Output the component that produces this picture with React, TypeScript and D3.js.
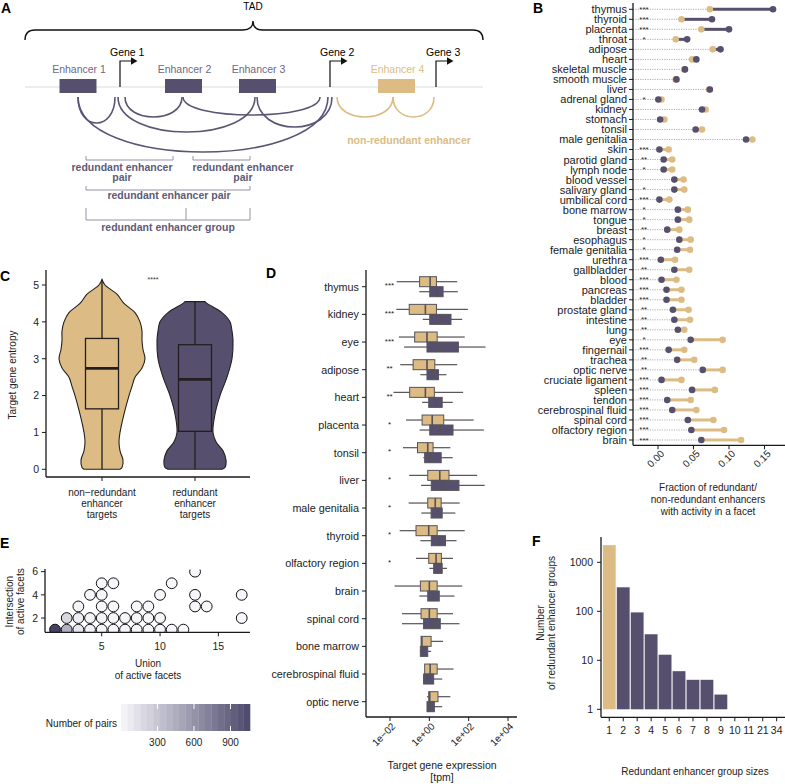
import React from 'react';
import * as d3 from 'd3';

const FONT = '"Liberation Sans", Arial, Helvetica, sans-serif';
const TAN = '#dcbc84';
const PURPLE = '#56506e';
const AXIS = '#1a1a1a';

// ---------- Panel A (schematic) ----------
const aEnhancers = ['Enhancer 1', 'Enhancer 2', 'Enhancer 3', 'Enhancer 4'];
const aEnhancerPos = [53, 158.5, 232.5, 371.5];
const aEnhancerRedundant = [true, true, true, false];
const aGenes = ['Gene 1', 'Gene 2', 'Gene 3'];
const aGenePos = [95, 305, 411];
const aArcFrom = [53, 53, 93, 100, 158, 232, 368, 368];
const aArcTo = [90, 303, 230, 157, 295, 307, 312, 409];
const aArcDepth = [26, 55, 35, 20, 18, 30, 20, 20];
const aArcRedundant = [true, true, true, true, true, true, false, false];

// ---------- Panel B ----------
const bCats = ['thymus', 'thyroid', 'placenta', 'throat', 'adipose', 'heart', 'skeletal muscle', 'smooth muscle', 'liver', 'adrenal gland', 'kidney', 'stomach', 'tonsil', 'male genitalia', 'skin', 'parotid gland', 'lymph node', 'blood vessel', 'salivary gland', 'umbilical cord', 'bone marrow', 'tongue', 'breast', 'esophagus', 'female genitalia', 'urethra', 'gallbladder', 'blood', 'pancreas', 'bladder', 'prostate gland', 'intestine', 'lung', 'eye', 'fingernail', 'trachea', 'optic nerve', 'cruciate ligament', 'spleen', 'tendon', 'cerebrospinal fluid', 'spinal cord', 'olfactory region', 'brain'];
const bRedundant = [0.162, 0.076, 0.100, 0.041, 0.088, 0.054, 0.038, 0.026, 0.073, 0.0005, 0.062, 0.003, 0.053, 0.124, 0.002, 0.008, 0.008, 0.023, 0.023, 0.002, 0.028, 0.028, 0.013, 0.030, 0.027, 0.004, 0.023, 0.005, 0.012, 0.012, 0.021, 0.023, 0.028, 0.046, 0.015, 0.027, 0.063, 0.005, 0.048, 0.013, 0.020, 0.042, 0.047, 0.061];
const bNonRedundant = [0.073, 0.033, 0.061, 0.025, 0.077, 0.048, 0.037, 0.025, 0.072, 0.005, 0.067, 0.009, 0.062, 0.133, 0.015, 0.020, 0.020, 0.036, 0.037, 0.016, 0.042, 0.044, 0.030, 0.046, 0.045, 0.024, 0.044, 0.026, 0.033, 0.033, 0.043, 0.045, 0.037, 0.091, 0.037, 0.051, 0.091, 0.033, 0.080, 0.046, 0.054, 0.078, 0.093, 0.117];
const bStars = ['***', '***', '***', '*', '', '', '', '', '', '*', '', '', '', '', '***', '**', '*', '', '*', '***', '*', '*', '**', '*', '*', '***', '**', '***', '***', '***', '**', '**', '**', '*', '***', '**', '**', '***', '***', '***', '***', '***', '***', '***'];
const bTicks = [0, 0.05, 0.1, 0.15];

// ---------- Panel C ----------
const cGroups = ['non\u2212redundant\nenhancer\ntargets', 'redundant\nenhancer\ntargets'];
const cNonRedLevels = [0, 0.05, 0.25, 0.5, 0.75, 1.0, 1.5, 2.0, 2.25, 2.5, 2.75, 3.0, 3.25, 3.5, 3.75, 4.0, 4.25, 4.5, 4.75, 5.0, 5.15];
const cNonRedWidth = [18, 20, 21, 18, 17, 18, 22, 27, 30, 33, 40, 43, 41, 40, 40, 38, 33, 22, 15, 3, 0];
const cRedLevels = [0, 0.05, 0.25, 0.5, 0.75, 1.0, 1.5, 2.0, 2.5, 3.0, 3.5, 3.75, 4.0, 4.25, 4.5, 4.55];
const cRedWidth = [27, 30, 31, 28, 21, 18, 20, 25, 32, 37, 38, 37, 35, 27, 12, 10];
const cBoxNonRed = [0, 1.64, 2.74, 3.55, 5.15];
const cBoxRed = [0, 1.03, 2.44, 3.38, 4.55];
const cTicks = [0, 1, 2, 3, 4, 5];

// ---------- Panel D ----------
const dCats = ['thymus', 'kidney', 'eye', 'adipose', 'heart', 'placenta', 'tonsil', 'liver', 'male genitalia', 'thyroid', 'olfactory region', 'brain', 'spinal cord', 'bone marrow', 'cerebrospinal fluid', 'optic nerve'];
const dStars = ['***', '***', '***', '**', '**', '*', '*', '*', '*', '*', '*', '', '', '', '', ''];
// [lower whisker, q1, median, q3, upper whisker] in tpm
const dNonRed = [
  [0.022, 0.32, 1.1, 2.3, 26],
  [0.021, 0.095, 0.63, 2.3, 91],
  [0.028, 0.18, 0.76, 2.5, 63],
  [0.033, 0.15, 0.76, 1.9, 26],
  [0.015, 0.10, 0.63, 1.8, 52],
  [0.065, 0.43, 1.4, 5.4, 180],
  [0.046, 0.25, 0.83, 1.55, 11.7],
  [0.095, 0.83, 3.4, 10, 270],
  [0.089, 0.83, 2.0, 4.0, 35],
  [0.031, 0.21, 0.93, 2.5, 63],
  [0.21, 0.93, 2.2, 4.1, 16],
  [0.017, 0.35, 1.0, 2.5, 47],
  [0.041, 0.38, 1.0, 2.5, 16],
  [0.38, 0.38, 0.42, 1.23, 5.0],
  [0.58, 0.58, 1.1, 2.5, 17],
  [0.76, 0.93, 1.05, 2.75, 11.7],
];
const dRed = [
  [0.31, 1.05, 2.5, 5.0, 28],
  [0.46, 1.05, 3.6, 12.6, 47],
  [0.052, 0.76, 3.6, 30, 720],
  [0.35, 0.76, 1.4, 2.9, 7.4],
  [0.43, 0.93, 2.0, 4.5, 15.5],
  [0.32, 1.05, 3.6, 16, 590],
  [0.5, 0.58, 1.1, 4.0, 15.5],
  [0.38, 1.26, 4.5, 32, 650],
  [0.39, 1.23, 2.5, 4.5, 21],
  [0.35, 1.26, 3.2, 6.6, 24],
  [1.0, 1.66, 2.7, 4.5, 7.9],
  [0.31, 0.83, 1.66, 3.2, 19],
  [0.041, 0.51, 1.4, 3.6, 34],
  [0.33, 0.35, 0.48, 0.83, 1.23],
  [0.51, 0.51, 0.76, 1.66, 4.5],
  [0.76, 0.76, 1.1, 1.8, 4.5],
];
const dTicks = [1e-2, 1, 1e2, 1e4];
const dTickLabels = ['1e\u221202', '1e+00', '1e+02', '1e+04'];

// ---------- Panel E ----------
const eUnion = [1, 2, 3, 4, 5, 6, 7, 8, 9, 10, 11, 12, 2, 3, 4, 5, 6, 7, 8, 9, 10, 17, 3, 5, 6, 8, 9, 13, 14, 4, 5, 10, 13, 17, 5, 6, 11, 13];
const eInter = [1, 1, 1, 1, 1, 1, 1, 1, 1, 1, 1, 1, 2, 2, 2, 2, 2, 2, 2, 2, 2, 2, 3, 3, 3, 3, 3, 3, 3, 4, 4, 4, 4, 4, 5, 5, 5, 6];
const eCount = [1100, 430, 110, 40, 25, 15, 8, 6, 4, 3, 2, 1, 190, 60, 30, 20, 12, 6, 5, 3, 2, 1, 25, 10, 6, 3, 2, 1, 1, 12, 5, 1, 1, 1, 3, 2, 1, 1];
const eXTicks = [5, 10, 15];
const eYTicks = [2, 4, 6];
const eLegendTicks = [300, 600, 900];

// ---------- Panel F ----------
const fSizes = ['1', '2', '3', '4', '5', '6', '7', '8', '9', '10', '11', '21', '34'];
const fCounts = [2240, 309, 95, 34, 13, 6, 4, 4, 2, 1, 1, 1, 1];
const fTicks = [1, 10, 100, 1000];

function PanelA() {
  const x = d3.scaleLinear().domain([0, 458]).range([25, 483]);
  const base = 87;
  const arcTop = 97;
  const labelCol = '#6c6985';
  const bracketCol = '#9592a6';
  const boldCol = '#5e5a78';
  return (
    <g>
      <text x={1} y={13} fontSize={14} fontWeight="bold">A</text>
      <text x={x(228)} y={10} fontSize={10} textAnchor="middle">TAD</text>
      <path d={`M${x(0)},40 Q${x(0)},30 ${x(10)},30 L${x(218)},30 Q${x(228)},30 ${x(228)},21 Q${x(228)},30 ${x(238)},30 L${x(448)},30 Q${x(458)},30 ${x(458)},40`} fill="none" stroke="#111" strokeWidth={1.4} />
      <line x1={x(0)} x2={x(458)} y1={base} y2={base} stroke="#dcdcdc" strokeWidth={1.2} />
      {aArcFrom.map((f, i) => {
        const x1 = x(f), x2 = x(aArcTo[i]);
        const c = arcTop + aArcDepth[i] / 0.75;
        return <path key={i} d={`M${x1},${arcTop} C${x1},${c} ${x2},${c} ${x2},${arcTop}`} fill="none" stroke={aArcRedundant[i] ? '#5a5575' : TAN} strokeWidth={1.6} />;
      })}
      {aEnhancers.map((e, i) => (
        <g key={e}>
          <rect x={x(aEnhancerPos[i]) - 18.5} y={79} width={37} height={14} fill={aEnhancerRedundant[i] ? PURPLE : TAN} />
          <text x={x(aEnhancerPos[i]) + 1} y={73} fontSize={10.5} textAnchor="middle" fill={aEnhancerRedundant[i] ? labelCol : TAN}>{e}</text>
        </g>
      ))}
      {aGenes.map((g, i) => {
        const gx = x(aGenePos[i]);
        return (
          <g key={g}>
            <path d={`M${gx},${base} L${gx},61 L${gx + 12},61`} fill="none" stroke="#111" strokeWidth={1.2} />
            <path d={`M${gx + 11},57.3 L${gx + 17.5},61 L${gx + 11},64.7 Z`} fill="#111" />
            <text x={gx - 10} y={56} fontSize={10.5}>{g}</text>
          </g>
        );
      })}
      <text x={409} y={144} fontSize={10.5} fontWeight="bold" fill={TAN} textAnchor="middle">non-redundant enhancer</text>
      <g stroke={bracketCol} strokeWidth={1} fill="none">
        <path d="M86,156 L86,160 L173,160 L173,156" />
        <path d="M193,156 L193,160 L250,160 L250,156" />
        <path d="M86,186 L86,190 L250,190 L250,186" />
        <path d="M86,208 L86,220 L250,220 L250,208 M186,208 L186,220" />
      </g>
      <g fontSize={10.5} fontWeight="bold" fill={boldCol} textAnchor="middle">
        <text x={122} y={171}>redundant enhancer</text>
        <text x={122} y={181}>pair</text>
        <text x={243} y={171}>redundant enhancer</text>
        <text x={243} y={181}>pair</text>
        <text x={169} y={199}>redundant enhancer pair</text>
        <text x={168} y={231}>redundant enhancer group</text>
      </g>
    </g>
  );
}

function PanelB() {
  const y = d3.scalePoint<string>().domain(bCats).range([9.3, 440]);
  const x = d3.scaleLinear().domain([0, 0.15]).range([658, 764.5]);
  const ax = 633, ay = 445.3;
  return (
    <g>
      <text x={533} y={13} fontSize={14} fontWeight="bold">B</text>
      {bCats.map((c, i) => {
        const cy = y(c) as number;
        const p = bRedundant[i], t = bNonRedundant[i];
        const lo = Math.min(p, t), hi = Math.max(p, t);
        return (
          <g key={c}>
            <line x1={ax} x2={x(lo)} y1={cy} y2={cy} stroke="#8a8a8a" strokeWidth={0.7} strokeDasharray="1.2,1.2" />
            <line x1={x(lo)} x2={x(hi)} y1={cy} y2={cy} stroke={p > t ? PURPLE : TAN} strokeWidth={3} />
            <circle cx={x(t)} cy={cy} r={3.3} fill={TAN} />
            <circle cx={x(p)} cy={cy} r={3.3} fill={PURPLE} />
            <text x={644} y={cy + 2.5} fontSize={8} textAnchor="middle" fill="#222">{bStars[i]}</text>
            <line x1={ax - 4} x2={ax} y1={cy} y2={cy} stroke={AXIS} strokeWidth={1} />
            <text x={ax - 6} y={cy} dy="0.36em" fontSize={11} textAnchor="end" fill="#1a1a1a">{c}</text>
          </g>
        );
      })}
      <line x1={ax} x2={ax} y1={3} y2={ay} stroke={AXIS} strokeWidth={1.3} />
      <line x1={ax} x2={785} y1={ay} y2={ay} stroke={AXIS} strokeWidth={1.3} />
      {bTicks.map((t) => (
        <g key={t}>
          <line x1={x(t)} x2={x(t)} y1={ay} y2={ay + 4} stroke={AXIS} strokeWidth={1} />
          <text transform={`translate(${x(t) + 7},${ay + 9}) rotate(-45)`} fontSize={10} textAnchor="end" fill="#222">{t.toFixed(2)}</text>
        </g>
      ))}
      <g fontSize={10} textAnchor="middle" fill="#222">
        <text x={708} y={491}>Fraction of redundant/</text>
        <text x={708} y={503}>non-redundant enhancers</text>
        <text x={708} y={515}>with activity in a facet</text>
      </g>
    </g>
  );
}

function PanelC() {
  const y = d3.scaleLinear().domain([0, 5]).range([469.3, 285]);
  const cxs = [102, 195];
  const ax = 46, ay = 477;
  const violin = (levels: number[], widths: number[], cx: number) => {
    const pts = levels.map((l, i) => [l, widths[i]] as [number, number]);
    return d3.area<[number, number]>()
      .y((d) => y(d[0]))
      .x0((d) => cx - d[1])
      .x1((d) => cx + d[1])
      .curve(d3.curveCatmullRom)(pts) as string;
  };
  const box = (s: number[], cx: number, fill: string) => (
    <g>
      <line x1={cx} x2={cx} y1={y(s[0])} y2={y(s[4])} stroke="#231f20" strokeWidth={1.3} />
      <rect x={cx - 16.5} y={y(s[3])} width={33} height={y(s[1]) - y(s[3])} fill={fill} stroke="#231f20" strokeWidth={1.3} />
      <line x1={cx - 16.5} x2={cx + 16.5} y1={y(s[2])} y2={y(s[2])} stroke="#231f20" strokeWidth={2.8} />
    </g>
  );
  return (
    <g>
      <text x={0} y={281} fontSize={14} fontWeight="bold">C</text>
      <path d={violin(cNonRedLevels, cNonRedWidth, cxs[0])} fill={TAN} stroke="#231f20" strokeWidth={1.1} />
      <path d={violin(cRedLevels, cRedWidth, cxs[1])} fill={PURPLE} stroke="#231f20" strokeWidth={1.1} />
      {box(cBoxNonRed, cxs[0], TAN)}
      {box(cBoxRed, cxs[1], PURPLE)}
      <text x={153} y={282} fontSize={7} textAnchor="middle" fill="#333">****</text>
      <line x1={ax} x2={ax} y1={270} y2={ay} stroke={AXIS} strokeWidth={1.3} />
      <line x1={ax} x2={250} y1={ay} y2={ay} stroke={AXIS} strokeWidth={1.3} />
      {cTicks.map((t) => (
        <g key={t}>
          <line x1={ax - 4} x2={ax} y1={y(t)} y2={y(t)} stroke={AXIS} strokeWidth={1} />
          <text x={39} y={y(t)} dy="0.36em" fontSize={10.5} textAnchor="end" fill="#222">{t}</text>
        </g>
      ))}
      {cGroups.map((g, i) => (
        <g key={i}>
          <line x1={cxs[i]} x2={cxs[i]} y1={ay} y2={ay + 4} stroke={AXIS} strokeWidth={1} />
          {g.split('\n').map((ln, j) => (
            <text key={j} x={cxs[i]} y={496 + j * 11} fontSize={10} textAnchor="middle" fill="#222">{ln}</text>
          ))}
        </g>
      ))}
      <text transform="translate(16,375) rotate(-90)" fontSize={10} textAnchor="middle" fill="#222">Target gene entropy</text>
    </g>
  );
}

function PanelD() {
  const y = d3.scalePoint<string>().domain(dCats).range([286.7, 701.7]);
  const x = d3.scaleLog().domain([1e-2, 1e4]).range([390, 508]);
  const ax = 366, ay = 717;
  const stroke = '#555258';
  const drawBox = (s: number[], cy: number, fill: string, key: string) => (
    <g key={key}>
      <line x1={x(s[0])} x2={x(s[1])} y1={cy} y2={cy} stroke={stroke} strokeWidth={1.2} />
      <line x1={x(s[3])} x2={x(s[4])} y1={cy} y2={cy} stroke={stroke} strokeWidth={1.2} />
      <rect x={x(s[1])} y={cy - 5} width={Math.max(0.5, x(s[3]) - x(s[1]))} height={10} fill={fill} stroke={stroke} strokeWidth={1} />
      <line x1={x(s[2])} x2={x(s[2])} y1={cy - 5} y2={cy + 5} stroke={stroke} strokeWidth={1.6} />
    </g>
  );
  return (
    <g>
      <text x={266} y={278} fontSize={14} fontWeight="bold">D</text>
      {dCats.map((c, i) => {
        const cy = y(c) as number;
        return (
          <g key={c}>
            {drawBox(dNonRed[i], cy - 5, TAN, 'n')}
            {drawBox(dRed[i], cy + 5, PURPLE, 'r')}
            <text x={389.5} y={cy + 1.5} fontSize={8} textAnchor="middle" fill="#222">{dStars[i]}</text>
            <line x1={ax - 4} x2={ax} y1={cy} y2={cy} stroke={AXIS} strokeWidth={1} />
            <text x={ax - 7} y={cy} dy="0.36em" fontSize={10.8} textAnchor="end" fill="#222">{c}</text>
          </g>
        );
      })}
      <line x1={ax} x2={ax} y1={270} y2={ay} stroke={AXIS} strokeWidth={1.3} />
      <line x1={ax} x2={517} y1={ay} y2={ay} stroke={AXIS} strokeWidth={1.3} />
      {dTicks.map((t, i) => (
        <g key={t}>
          <line x1={x(t)} x2={x(t)} y1={ay} y2={ay + 4} stroke={AXIS} strokeWidth={1} />
          <text transform={`translate(${x(t) + 6},${ay + 10}) rotate(-45)`} fontSize={10} textAnchor="end" fill="#222">{dTickLabels[i]}</text>
        </g>
      ))}
      <text x={442} y={769} fontSize={10.5} textAnchor="middle" fill="#222">Target gene expression</text>
      <text x={442} y={781} fontSize={10.5} textAnchor="middle" fill="#222">[tpm]</text>
    </g>
  );
}

function PanelE() {
  const x = d3.scaleLinear().domain([0.14, 17.71]).range([45, 250]);
  const y = d3.scaleLinear().domain([0.77, 6.23]).range([632.3, 569]);
  const color = d3.scaleLinear<string>().domain([1, 1060]).range(['#f7f7fb', '#4c486b']);
  const lx = d3.scaleLinear().domain([1, 1060]).range([121, 250]);
  const nbin = 20;
  const bins = d3.range(nbin).map((i) => 1 + (i + 0.5) * (1059 / nbin));
  const ax = 45, ay = 632.3;
  return (
    <g>
      <text x={0} y={548} fontSize={14} fontWeight="bold">E</text>
      <defs>
        <clipPath id="eclip"><rect x={ax} y={569.5} width={205} height={ay - 569.5} /></clipPath>
      </defs>
      <g clipPath="url(#eclip)">
        {eUnion.map((u, i) => (
          <circle key={i} cx={x(u)} cy={y(eInter[i])} r={5.4} fill={color(eCount[i])} stroke="#111" strokeWidth={1} />
        ))}
      </g>
      <line x1={ax} x2={ax} y1={569} y2={ay} stroke={AXIS} strokeWidth={1.3} />
      <line x1={ax} x2={250} y1={ay} y2={ay} stroke={AXIS} strokeWidth={1.3} />
      {eYTicks.map((t) => (
        <g key={t}>
          <line x1={ax - 4} x2={ax} y1={y(t)} y2={y(t)} stroke={AXIS} strokeWidth={1} />
          <text x={38} y={y(t)} dy="0.36em" fontSize={10.5} textAnchor="end" fill="#222">{t}</text>
        </g>
      ))}
      {eXTicks.map((t) => (
        <g key={t}>
          <line x1={x(t)} x2={x(t)} y1={ay} y2={ay + 4} stroke={AXIS} strokeWidth={1} />
          <text x={x(t)} y={650} fontSize={10.5} textAnchor="middle" fill="#222">{t}</text>
        </g>
      ))}
      <text x={148} y={667} fontSize={10} textAnchor="middle" fill="#222">Union</text>
      <text x={148} y={679} fontSize={10} textAnchor="middle" fill="#222">of active facets</text>
      <text transform="translate(12.5,601.7) rotate(-90)" fontSize={10} textAnchor="middle" fill="#222">Intersection</text>
      <text transform="translate(24,601.7) rotate(-90)" fontSize={10} textAnchor="middle" fill="#222">of active facets</text>
      <text x={117} y={727} fontSize={10} textAnchor="end" fill="#222">Number of pairs</text>
      {bins.map((b, i) => (
        <rect key={i} x={lx(1 + i * 1059 / nbin)} y={704} width={lx(1 + (i + 1) * 1059 / nbin) - lx(1 + i * 1059 / nbin) + 0.3} height={27} fill={color(b)} />
      ))}
      {eLegendTicks.map((t) => (
        <g key={t}>
          <line x1={lx(t)} x2={lx(t)} y1={704} y2={709} stroke="white" strokeWidth={1} />
          <line x1={lx(t)} x2={lx(t)} y1={726} y2={731} stroke="white" strokeWidth={1} />
          <text x={lx(t)} y={746} fontSize={10} textAnchor="middle" fill="#222">{t}</text>
        </g>
      ))}
    </g>
  );
}

function PanelF() {
  const x = d3.scaleBand<string>().domain(fSizes).range([602.3, 783.65]).paddingInner(0.08).paddingOuter(0.04);
  const y = d3.scaleLog().domain([1, 1000]).range([709.3, 562.3]);
  const ax = 601, ay = 717.3;
  return (
    <g>
      <text x={532} y={546} fontSize={14} fontWeight="bold">F</text>
      {fSizes.map((s, i) => (
        fCounts[i] > 1 ? <rect key={s} x={x(s)} y={y(fCounts[i])} width={x.bandwidth()} height={y(1) - y(fCounts[i])} fill={i === 0 ? TAN : PURPLE} /> : null
      ))}
      <line x1={ax} x2={ax} y1={537} y2={ay} stroke={AXIS} strokeWidth={1.3} />
      <line x1={ax} x2={785} y1={ay} y2={ay} stroke={AXIS} strokeWidth={1.3} />
      {fTicks.map((t) => (
        <g key={t}>
          <line x1={ax - 4} x2={ax} y1={y(t)} y2={y(t)} stroke={AXIS} strokeWidth={1} />
          <text x={593} y={y(t)} dy="0.36em" fontSize={10.5} textAnchor="end" fill="#222">{t}</text>
        </g>
      ))}
      {fSizes.map((s) => {
        const cx = (x(s) as number) + x.bandwidth() / 2;
        return (
          <g key={s}>
            <line x1={cx} x2={cx} y1={ay} y2={ay + 4} stroke={AXIS} strokeWidth={1} />
            <text x={cx} y={734} fontSize={10.5} textAnchor="middle" fill="#222">{s}</text>
          </g>
        );
      })}
      <text transform="translate(544,623) rotate(-90)" fontSize={10} textAnchor="middle" fill="#222">Number</text>
      <text transform="translate(555,623) rotate(-90)" fontSize={10} textAnchor="middle" fill="#222">of redundant enhancer groups</text>
      <text x={695} y={775} fontSize={10} textAnchor="middle" fill="#222">Redundant enhancer group sizes</text>
    </g>
  );
}

export default function App() {
  return (
    <svg width={785} height={784} style={{ position: 'absolute', left: 0, top: 0 }} fontFamily={FONT}>
      <rect width={785} height={784} fill="white" />
      <PanelA />
      <PanelB />
      <PanelC />
      <PanelD />
      <PanelE />
      <PanelF />
    </svg>
  );
}
